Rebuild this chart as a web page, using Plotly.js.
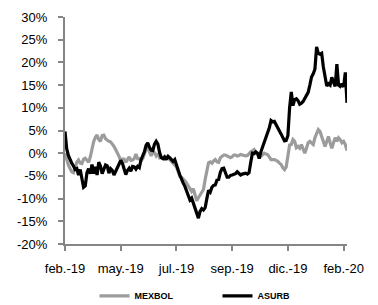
<!DOCTYPE html>
<html>
<head>
<meta charset="utf-8">
<script src="https://cdn.plot.ly/plotly-3.0.1.min.js"></script>
<style>html,body{margin:0;padding:0;background:#fff;}#chart{width:378px;height:305px;}</style>
</head>
<body>
<div id="chart"></div>
<script>
// Cumulative return (%) per trading-day index, Feb-2019 .. Feb-2020
const tickPositions = [0, 33, 66, 99, 132, 165];
const tickLabels = ["feb.-19", "may.-19", "jul.-19", "sep.-19", "dic.-19", "feb.-20"];

const mexbol = [
  0, -1.5, -2.6, -3.4, -4.1, -4.3, -3.2, -2.0, -1.5, -2.2,
  -2.3, -1.3, -1.1, -1.6, -2.0, -0.8, 1.0, 2.6, 3.5, 4.0,
  3.0, 2.6, 3.9, 4.0, 3.2, 2.8, 2.6, 2.5, 2.1, 1.5,
  0.8, 0.2, -0.7, -1.6, -1.3, -1.3, -2.0, -1.4, -0.8, -1.6,
  -1.5, -1.2, -0.2, -1.2, -1.2, -1.7, -1.2, -0.2, 0.9, 1.1,
  0.1, -0.6, 0.3, 0.1, -0.6, -0.1, -1.0, -0.8, -1.1, -1.3,
  -1.1, -0.7, -1.4, -1.8, -2.0, -2.5, -3.0, -4.0, -5.1, -5.3,
  -5.6, -6.1, -6.6, -7.2, -7.8, -8.4, -7.8, -9.0, -10.5, -9.8,
  -9.1, -8.4, -8.0, -5.8, -3.4, -2.1, -1.9, -2.2, -1.7, -1.4,
  -1.9, -2.0, -1.0, -0.6, -0.4, -0.4, -0.6, -0.8, -1.0, -0.8,
  -0.4, -0.4, -0.6, -0.5, -0.3, -0.4, -0.6, -0.6, -0.5, 0.0,
  0.3, 0.5, 0.8, 0.3, -0.2, -0.5, -0.7, -0.3, 0.0, -0.2,
  -0.3, -0.8, -1.4, -1.4, -1.4, -1.6, -1.8, -2.2, -2.5, -3.2,
  -3.6, -3.0, -0.5, 1.8, 1.9, 3.0, 2.6, 1.2, 1.5, 1.1,
  1.9, 0.8, 0.0, 1.1, 2.3, 2.6, 2.3, 1.9, 3.4, 4.5,
  5.2, 4.8, 3.7, 2.6, 1.5, 2.6, 3.7, 2.3, 1.1, 2.3,
  3.4, 2.6, 3.4, 3.0, 2.3, 2.6, 1.9, 0.6
];

const asurb = [
  4.8, 1.0, -0.5, -1.5, -2.2, -2.8, -3.6, -3.4, -4.8, -3.6,
  -5.3, -7.5, -7.2, -4.3, -3.4, -4.5, -2.5, -4.5, -3.0, -4.8,
  -2.0, -2.8, -4.5, -3.5, -2.6, -2.8, -4.4, -3.4, -3.8, -4.8,
  -4.0, -2.8, -2.0, -1.6, -2.2, -3.6, -4.7, -3.8, -3.3, -4.0,
  -2.9, -3.0, -3.5, -2.9, -3.2, -1.5, -0.6, 0.3, 1.7, 2.3,
  1.3, 0.7, 0.6, 2.0, 2.6, 2.0, 0.2, -1.0, -1.2, -0.8,
  -1.4, -0.7, -1.0, -1.5, -1.8, -1.4, -2.9, -3.7, -4.8, -5.9,
  -6.6, -7.3, -8.4, -9.6, -10.3, -9.9, -11.1, -12.2, -13.3, -14.3,
  -12.8, -12.2, -12.5, -12.0, -10.0, -8.2, -8.6, -7.5, -7.1, -7.0,
  -5.9, -5.8, -4.2, -3.4, -3.3, -4.5, -5.3, -5.3, -4.9, -4.8,
  -4.6, -4.5, -4.1, -4.4, -4.8, -4.6, -4.5, -4.4, -4.6, -4.3,
  -2.0, 0.0, -0.1, 0.3, 0.0, -1.2, 0.3, 1.3, 2.3, 3.2,
  4.4, 5.6, 7.2, 6.9, 7.0, 6.4, 5.7, 4.9, 4.2, 3.5,
  2.7, 2.8, 3.9, 10.0, 13.5, 10.5, 11.8, 12.0, 11.6, 10.8,
  11.0, 11.4, 12.0, 12.5, 13.4, 15.0, 16.8, 17.5, 18.5, 23.4,
  22.0, 21.8, 22.0, 19.0, 17.0, 14.8, 15.3, 15.0, 16.7, 15.5,
  14.7, 19.6, 15.0, 14.7, 15.3, 14.6, 17.8, 11.1
];

const yTicks = [30, 25, 20, 15, 10, 5, 0, -5, -10, -15, -20];

const days = mexbol.map((_, i) => i);

const traces = [
  {x: days, y: mexbol, name: "MEXBOL", type: "scatter", mode: "lines",
   line: {color: "#9c9c9c", width: 3.2}},
  {x: days, y: asurb, name: "ASURB", type: "scatter", mode: "lines",
   line: {color: "#000000", width: 3.2}}
];

const layout = {
  width: 378, height: 305,
  margin: {l: 65, r: 31, t: 17, b: 61},
  paper_bgcolor: "#ffffff", plot_bgcolor: "#ffffff",
  font: {family: "Liberation Sans, Arial, sans-serif", size: 13, color: "#000"},
  showlegend: true,
  legend: {orientation: "h", x: 0.25, xanchor: "left", xref: "container",
           y: 0.03, yanchor: "middle", yref: "container",
           entrywidth: 78, entrywidthmode: "pixels",
           font: {family: "Liberation Sans, Arial, sans-serif", size: 9, weight: "bold", color: "#000"}},
  xaxis: {
    range: [0, days.length - 1], tickmode: "array", tickvals: tickPositions, ticktext: tickLabels,
    showgrid: false, zeroline: false, showline: true, linecolor: "#868686", linewidth: 2,
    ticks: "outside", ticklen: 5, tickcolor: "#868686", tickwidth: 2, ticklabelstandoff: 6,
    tickfont: {size: 13}, automargin: false
  },
  yaxis: {
    range: [-20, 30], tickmode: "array", tickvals: yTicks,
    ticktext: yTicks.map(v => v + "%"),
    showgrid: false, zeroline: false, showline: true, linecolor: "#868686", linewidth: 2,
    ticks: "outside", ticklen: 5, tickcolor: "#868686", tickwidth: 2, ticklabelstandoff: 8,
    tickfont: {size: 13}, automargin: false
  }
};

Plotly.newPlot("chart", traces, layout, {displayModeBar: false, staticPlot: true});
</script>
</body>
</html>
